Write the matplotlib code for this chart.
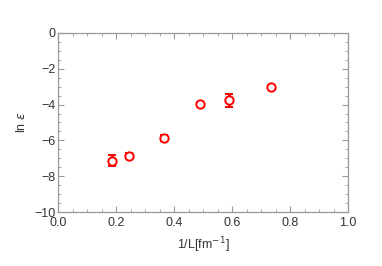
import matplotlib
matplotlib.use("Agg")
import matplotlib.pyplot as plt
from matplotlib.ticker import MultipleLocator

# ln(eps) vs 1/L
inv_L = [0.185, 0.246, 0.367, 0.490, 0.588, 0.735]
ln_eps = [-7.13, -6.85, -5.88, -3.98, -3.76, -3.0]
err = [0.30, 0.12, 0.16, 0.12, 0.36, 0.04]

plt.rcParams['font.family'] = ['Liberation Sans', 'DejaVu Sans']
plt.rcParams['font.size'] = 9

fig = plt.figure(figsize=(3.82, 2.66), dpi=100)
ax = fig.add_axes([0.152, 0.203, 0.759, 0.673])

ax.errorbar(inv_L, ln_eps, yerr=err, fmt='o', color='red', mfc='white', mec='red',
            ms=6, mew=1.4, elinewidth=2, capsize=3, capthick=2)

ax.set_xlim(0, 1)
ax.set_ylim(-10, 0)
ax.xaxis.set_major_locator(MultipleLocator(0.2))
ax.xaxis.set_minor_locator(MultipleLocator(0.05))
ax.yaxis.set_major_locator(MultipleLocator(2))
ax.yaxis.set_minor_locator(MultipleLocator(0.5))
ax.set_xticklabels([f"{v:.1f}" for v in ax.get_xticks()])
ax.set_yticklabels([f"{int(v)}".replace('-', '\u2212') for v in ax.get_yticks()])

for s in ax.spines.values():
    s.set_color('#999999')
    s.set_linewidth(0.9)
ax.tick_params(which='both', direction='in', top=True, right=True, color='#999999',
               labelcolor='#333333')
ax.tick_params(axis='x', pad=3.5)
ax.tick_params(axis='y', pad=2)
ax.tick_params(which='major', length=4, width=0.8)
ax.tick_params(which='minor', length=2, width=0.6)

ax.set_xlabel('1/L[fm$^{-1}$]', color='#333333', labelpad=5)
ax.set_ylabel(r'ln $\epsilon$', color='#333333', labelpad=4)

fig.savefig('out.png', dpi=100)
